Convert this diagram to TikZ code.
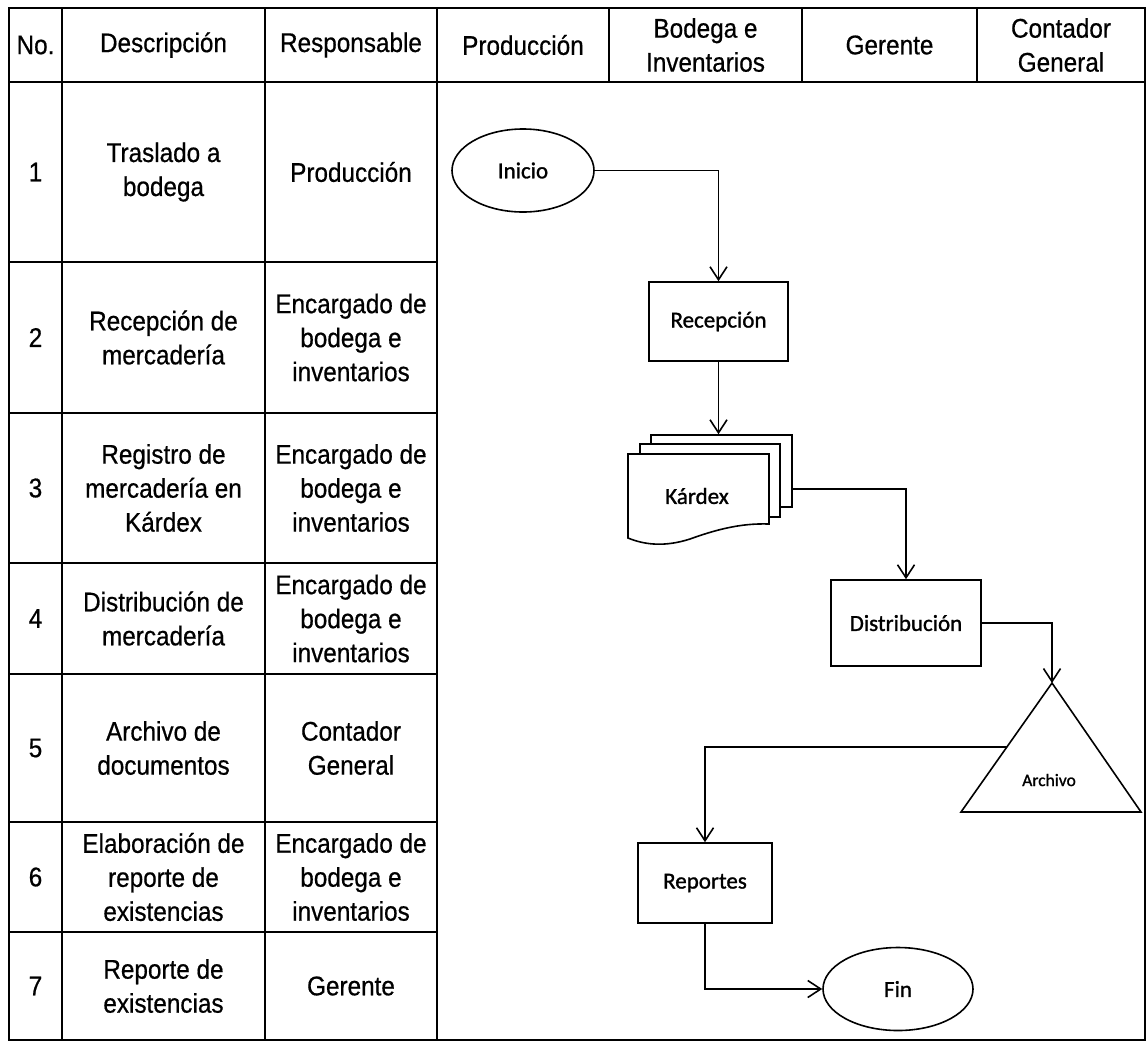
\documentclass[tikz,border=0pt]{standalone}
\usepackage{fontspec}
\setmainfont{Liberation Sans}
\newfontfamily\tabfont[FakeStretch=0.9,FakeBold=0.6]{Liberation Sans}
\newfontfamily\flowfont[FakeBold=1.2]{Carlito}
\usetikzlibrary{arrows.meta,shapes.geometric}
\begin{document}
\begin{tikzpicture}[x=1pt,y=-1pt,
  tabline/.style={line width=2.6pt},
  celltext/.style={font=\tabfont\fontsize{27}{34}\selectfont, align=center, inner sep=0pt},
  flow/.style={line width=1.6pt},
  arr/.style={flow, -{Straight Barb[length=13pt,width=17pt,line width=1.6pt]}},
  procbox/.style={draw, line width=1.6pt, rectangle, fill=white, inner sep=0pt, font=\flowfont\fontsize{23}{28}\selectfont},
  term/.style={draw, ellipse, line width=1.6pt, inner sep=0pt, font=\flowfont\fontsize{23}{28}\selectfont},
  sheet/.style={draw, line width=1.6pt, fill=white, inner sep=0pt}
]
\useasboundingbox (0,0) rectangle (1147,1042);
\fill[white] (0,0) rectangle (1147,1042);

% table grid
\draw[tabline] (9,8) rectangle (1145,1040);
\draw[tabline] (9,82) -- (1145,82);
\foreach \x in {62,265,437} \draw[tabline] (\x,8) -- (\x,1040);
\foreach \x in {609,802,977} \draw[tabline] (\x,8) -- (\x,82);
\foreach \y in {262,413,563,674,822,932} \draw[tabline] (9,\y) -- (437,\y);

% header
\node[celltext] (hno) at (35.5,45) {No.};
\node[celltext] (hdesc) at (163.5,45) {Descripción};
\node[celltext] (hresp) at (351,45) {Responsable};
\node[celltext] (hprod) at (523,45) {Producción};
\node[celltext] (hbod) at (705.5,45) {Bodega e\\Inventarios};
\node[celltext] (hger) at (889.5,45) {Gerente};
\node[celltext] (hcont) at (1061,45) {Contador\\General};

% rows
\node[celltext] (n1) at (35.5,172) {1};
\node[celltext] (d1) at (163.5,172) {Traslado a\\bodega};
\node[celltext] (r1) at (351,172) {Producción};
\node[celltext] (n2) at (35.5,337.5) {2};
\node[celltext] (d2) at (163.5,337.5) {Recepción de\\mercadería};
\node[celltext] (r2) at (351,337.5) {Encargado de\\bodega e\\inventarios};
\node[celltext] (n3) at (35.5,488) {3};
\node[celltext] (d3) at (163.5,488) {Registro de\\mercadería en\\Kárdex};
\node[celltext] (r3) at (351,488) {Encargado de\\bodega e\\inventarios};
\node[celltext] (n4) at (35.5,618.5) {4};
\node[celltext] (d4) at (163.5,618.5) {Distribución de\\mercadería};
\node[celltext] (r4) at (351,618.5) {Encargado de\\bodega e\\inventarios};
\node[celltext] (n5) at (35.5,748) {5};
\node[celltext] (d5) at (163.5,748) {Archivo de\\documentos};
\node[celltext] (r5) at (351,748) {Contador\\General};
\node[celltext] (n6) at (35.5,877) {6};
\node[celltext] (d6) at (163.5,877) {Elaboración de\\reporte de\\existencias};
\node[celltext] (r6) at (351,877) {Encargado de\\bodega e\\inventarios};
\node[celltext] (n7) at (35.5,986) {7};
\node[celltext] (d7) at (163.5,986) {Reporte de\\existencias};
\node[celltext] (r7) at (351,986) {Gerente};

% flowchart
\node[term, minimum width=142pt, minimum height=83pt] (inicio) at (523,170.5) {Inicio};
\node[procbox, minimum width=139pt, minimum height=79pt] (recep) at (718.5,321.5) {Recepción};

\node[sheet, minimum width=141pt, minimum height=72pt] (kback) at (721.5,471) {};
\node[sheet, minimum width=140pt, minimum height=73pt] (kmid) at (710,480.5) {};
\draw[flow, fill=white] (628,454) -- (769,454) -- (769,524)
  .. controls (740,523) and (715,530) .. (690,539)
  .. controls (665,547) and (645,545) .. (628,538) -- cycle;
\node[font=\flowfont\fontsize{23}{28}\selectfont] (kardex) at (697,496) {Kárdex};

\node[procbox, minimum width=150pt, minimum height=86pt] (dist) at (906,623) {Distribución};

\coordinate (archtop) at (1052,683);
\coordinate (archleft) at (1007,747);
\draw[flow] (archtop) -- (1141,812) -- (961,812) -- cycle;
\node[font=\flowfont\fontsize{17.5}{21}\selectfont] (archivo) at (1049,780) {Archivo};

\node[procbox, minimum width=134pt, minimum height=80pt] (rep) at (705,883) {Reportes};
\node[term, minimum width=150pt, minimum height=83pt] (fin) at (898,989) {Fin};

% connectors
\draw[arr] (inicio.east) -| (recep.north);
\draw[arr] (recep.south) -- (recep.south |- kback.north);
\draw[arr] ([yshift=-18pt]kback.east) -| (dist.north);
\draw[arr] (dist.east) -| (archtop);
\draw[arr] (archleft) -| (rep.north);
\draw[arr] (rep.south) |- (fin.west);
\end{tikzpicture}
\end{document}
